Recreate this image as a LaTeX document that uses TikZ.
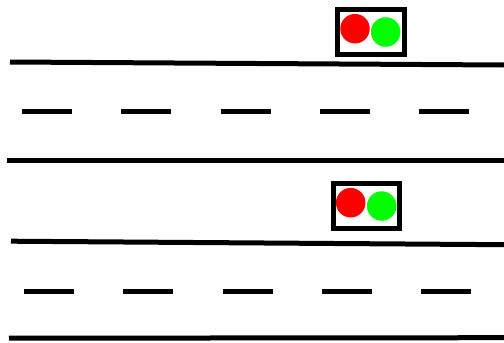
\documentclass[tikz,border=0pt]{standalone}
\tikzset{
  roadline/.style={line width=5pt},
  carbody/.style={draw, line width=5pt, minimum width=66.5pt, minimum height=44.5pt, inner sep=0pt},
  redlight/.style={circle, fill={rgb,255:red,255;green,0;blue,0}, minimum size=29.5pt, inner sep=0pt},
  greenlight/.style={circle, fill={rgb,255:red,0;green,255;blue,0}, minimum size=29.5pt, inner sep=0pt}
}
\begin{document}
\begin{tikzpicture}[x=1pt,y=-1pt]
\useasboundingbox (0,0) rectangle (504,343);
% upper road
\draw[roadline] (10,62) -- (504,65);
\draw[roadline] (7,160.5) -- (504,160.5);
\foreach \x in {22,121,220.5,320,419}
  \draw[roadline] (\x,111.5) -- ++(50,0);
% lower road
\draw[roadline] (11,241.2) -- (504,244.7);
\draw[roadline] (9,338.2) -- (504,337.7);
\foreach \x in {24,123,222.5,322,421}
  \draw[roadline] (\x,291) -- ++(50,0);
% cars
\node[carbody] (cara) at (370.8,32) {};
\node[redlight] (reda) at (355,28.7) {};
\node[greenlight] (greena) at (385.7,32) {};
\node[carbody] (carb) at (366.7,205.8) {};
\node[redlight] (redb) at (350.7,202.7) {};
\node[greenlight] (greenb) at (381.7,206) {};
\end{tikzpicture}
\end{document}
